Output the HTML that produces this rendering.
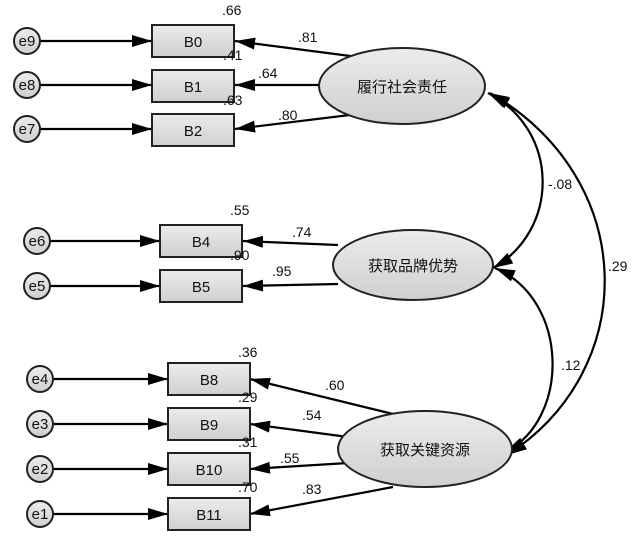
<!DOCTYPE html>
<html><head><meta charset="utf-8"><style>
html,body{margin:0;padding:0;background:#fff;}
svg{display:block;}
text{font-family:"Liberation Sans","Noto Sans CJK SC",sans-serif;fill:#111;}
</style></head><body>
<svg width="636" height="537" viewBox="0 0 636 537" xmlns="http://www.w3.org/2000/svg">
<defs>
<linearGradient id="g" x1="0" y1="0" x2="0" y2="1"><stop offset="0" stop-color="#ececec"/><stop offset="1" stop-color="#cfcfcf"/></linearGradient>
<marker id="a" viewBox="0 0 10 10" refX="10" refY="5" markerWidth="7" markerHeight="5" orient="auto-start-reverse" markerUnits="userSpaceOnUse" preserveAspectRatio="none"><path d="M0,0 L10,5 L0,10z" fill="#000"/></marker>
<marker id="b" viewBox="0 0 10 10" refX="10" refY="5" markerWidth="20" markerHeight="12" orient="auto-start-reverse" markerUnits="userSpaceOnUse" preserveAspectRatio="none"><path d="M0,0 L10,5 L0,10z" fill="#000"/></marker>
</defs>
<g stroke="#000" stroke-width="2.2" fill="none">
<!-- error arrows -->
<line x1="40" y1="41" x2="152" y2="41" marker-end="url(#b)"/>
<line x1="40" y1="85" x2="152" y2="85" marker-end="url(#b)"/>
<line x1="40" y1="129" x2="152" y2="129" marker-end="url(#b)"/>
<line x1="50" y1="241" x2="160" y2="241" marker-end="url(#b)"/>
<line x1="50" y1="286" x2="160" y2="286" marker-end="url(#b)"/>
<line x1="53" y1="379" x2="168" y2="379" marker-end="url(#b)"/>
<line x1="53" y1="424" x2="168" y2="424" marker-end="url(#b)"/>
<line x1="53" y1="469" x2="168" y2="469" marker-end="url(#b)"/>
<line x1="53" y1="514" x2="168" y2="514" marker-end="url(#b)"/>
<!-- loadings -->
<line x1="358" y1="57" x2="235" y2="41" marker-end="url(#b)"/>
<line x1="320" y1="85" x2="235" y2="85" marker-end="url(#b)"/>
<line x1="358" y1="114" x2="235" y2="129" marker-end="url(#b)"/>
<line x1="338" y1="245" x2="243" y2="241" marker-end="url(#b)"/>
<line x1="338" y1="284" x2="243" y2="286" marker-end="url(#b)"/>
<line x1="393" y1="414" x2="250" y2="379" marker-end="url(#b)"/>
<line x1="348" y1="437" x2="250" y2="424" marker-end="url(#b)"/>
<line x1="348" y1="463" x2="250" y2="469" marker-end="url(#b)"/>
<line x1="393" y1="487" x2="250" y2="514" marker-end="url(#b)"/>
<!-- covariances -->
<path d="M488,93 C560,130 560,230 493,268" marker-start="url(#b)" marker-end="url(#b)"/>
<path d="M490,93 C640,180 640,370 507,455" marker-start="url(#b)" marker-end="url(#b)"/>
<path d="M495,268 C570,300 570,420 505,452" marker-start="url(#b)" marker-end="url(#b)"/>
</g>
<g stroke="#222" stroke-width="2" fill="url(#g)">
<circle cx="27" cy="41" r="13"/><circle cx="27" cy="85" r="13"/><circle cx="27" cy="129" r="13"/>
<circle cx="37" cy="241" r="13"/><circle cx="37" cy="286" r="13"/>
<circle cx="40" cy="379" r="13"/><circle cx="40" cy="424" r="13"/><circle cx="40" cy="469" r="13"/><circle cx="40" cy="514" r="13"/>
<rect x="152" y="25" width="82" height="32"/><rect x="152" y="70" width="82" height="32"/><rect x="152" y="114" width="82" height="32"/>
<rect x="160" y="225" width="82" height="32"/><rect x="160" y="270" width="82" height="32"/>
<rect x="168" y="363" width="82" height="32"/><rect x="168" y="408" width="82" height="32"/><rect x="168" y="453" width="82" height="32"/><rect x="168" y="498" width="82" height="32"/>
<ellipse cx="402" cy="86" rx="83" ry="38"/>
<ellipse cx="413" cy="265" rx="80" ry="35"/>
<ellipse cx="425" cy="449" rx="87" ry="38"/>
</g>
<g font-size="15" text-anchor="middle">
<text x="27" y="46">e9</text><text x="27" y="90">e8</text><text x="27" y="134">e7</text>
<text x="37" y="246">e6</text><text x="37" y="291">e5</text>
<text x="40" y="384">e4</text><text x="40" y="429">e3</text><text x="40" y="474">e2</text><text x="40" y="519">e1</text>
<text x="193" y="47">B0</text><text x="193" y="92">B1</text><text x="193" y="136">B2</text>
<text x="201" y="247">B4</text><text x="201" y="292">B5</text>
<text x="209" y="385">B8</text><text x="209" y="430">B9</text><text x="209" y="475">B10</text><text x="209" y="520">B11</text>
<text x="402" y="92">履行社会责任</text>
<text x="413" y="271">获取品牌优势</text>
<text x="425" y="455">获取关键资源</text>
</g>
<g font-size="14">
<text x="222" y="15">.66</text><text x="223" y="60">.41</text><text x="223" y="105">.63</text>
<text x="298" y="42">.81</text><text x="258" y="78">.64</text><text x="278" y="120">.80</text>
<text x="230" y="215">.55</text><text x="230" y="260">.90</text>
<text x="292" y="237">.74</text><text x="272" y="276">.95</text>
<text x="238" y="357">.36</text><text x="238" y="402">.29</text><text x="238" y="447">.31</text><text x="238" y="492">.70</text>
<text x="325" y="390">.60</text><text x="302" y="420">.54</text><text x="280" y="463">.55</text><text x="302" y="494">.83</text>
<text x="548" y="189">-.08</text><text x="608" y="271">.29</text><text x="561" y="370">.12</text>
</g>
</svg>
</body></html>
